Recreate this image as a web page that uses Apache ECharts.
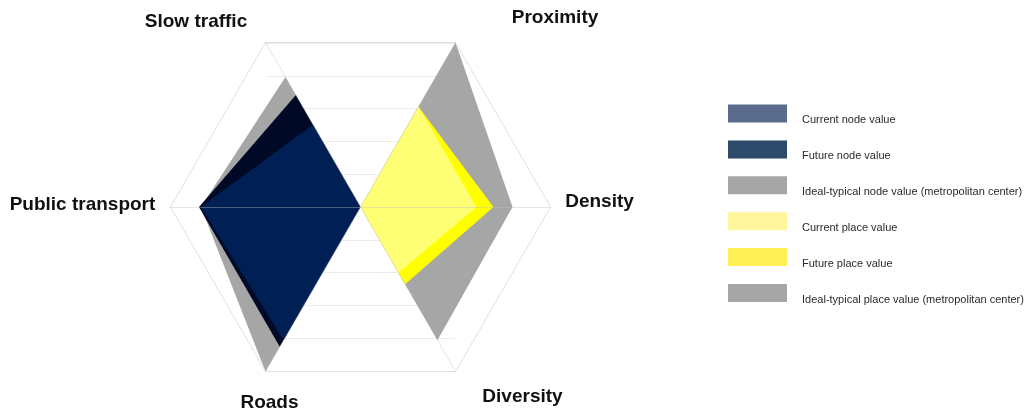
<!DOCTYPE html>
<html><head><meta charset="utf-8">
<script src="https://cdn.jsdelivr.net/npm/echarts@6/dist/echarts.min.js"></script>
<style>html,body{margin:0;padding:0;background:#fff}#c{width:1036px;height:413px}</style>
</head><body><div id="c"></div>
<script>
// Axes (counter-clockwise from the right)
const indicators = ['Density', 'Proximity', 'Slow traffic', 'Public transport', 'Roads', 'Diversity'];
const axisMax = 10;
// Values per axis, same order as indicators
const currentNode  = [0, 0, 5.0, 8.4, 8.1, 0];
const futureNode   = [0, 0, 6.8, 8.5, 8.5, 0];
const idealNode    = [0, 0, 7.9, 8.4, 10, 0];
const currentPlace = [6.1, 6.1, 0, 0, 0, 4.0];
const futurePlace  = [7.0, 6.1, 0, 0, 0, 4.7];
const idealPlace   = [8.0, 10, 0, 0, 0, 8.1];
const legendNames = [
  'Current node value',
  'Future node value',
  'Ideal-typical node value (metropolitan center)',
  'Current place value',
  'Future place value',
  'Ideal-typical place value (metropolitan center)'
];
const gridSteps = [0, 10, 1];

const legendColors = ['#5b6b8c', '#2d4a6b', '#a6a6a6', '#fff59c', '#fff057', '#a6a6a6'];
const fillColors = ['#001f54', '#000a26', '#a6a6a6', '#ffff75', '#ffff00', '#a6a6a6'];
const valuesByLegend = [currentNode, futureNode, idealNode, currentPlace, futurePlace, idealPlace];
// draw order: ideal (bottom), future, current (top)
const drawOrder = [2, 5, 1, 4, 0, 3];

const nameKeys = {'Density':'d','Proximity':'p','Slow traffic':'s','Public transport':'t','Roads':'r','Diversity':'v'};
const base = {fontSize: 19, fontWeight: 'bold', color: '#111', fontFamily: 'Liberation Sans'};
const rich = {
  d: Object.assign({padding: [0, 0, 10, 68]}, base),
  p: Object.assign({padding: [0, 0, 24, 184]}, base),
  s: Object.assign({padding: [0, 124, 16, 0]}, base),
  t: Object.assign({padding: [0, 146, 4, 0]}, base),
  r: Object.assign({padding: [36, 0, 0, 23]}, base),
  v: Object.assign({padding: [24, 0, 0, 119]}, base)
};

const chart = echarts.init(document.getElementById('c'), null, {renderer: 'canvas'});
chart.setOption({
  animation: false,
  backgroundColor: '#fff',
  grid: {left: 266, top: 43, width: 189, height: 328, z: 0},
  xAxis: {type: 'value', show: false},
  yAxis: {
    type: 'value', min: gridSteps[0], max: gridSteps[1], interval: gridSteps[2],
    axisLine: {show: false}, axisTick: {show: false}, axisLabel: {show: false},
    splitLine: {show: true, lineStyle: {color: '#ececec', width: 1}}
  },
  radar: {
    center: [360.5, 207],
    radius: 190,
    startAngle: 0,
    splitNumber: 1,
    shape: 'polygon',
    z: 3,
    nameGap: 15,
    indicator: indicators.map(n => ({name: n, min: 0, max: axisMax})),
    axisName: {
      align: 'center', verticalAlign: 'middle',
      fontSize: 19, fontWeight: 'bold', color: '#111', fontFamily: 'Liberation Sans',
      formatter: (name) => '{' + nameKeys[name] + '|' + name + '}',
      rich: rich
    },
    axisLine: {show: true, lineStyle: {color: 'rgba(190,190,190,0.4)', width: 1}},
    splitLine: {show: true, lineStyle: {color: '#e0e0e0', width: 1}},
    splitArea: {show: false}
  },
  legend: {
    orient: 'vertical',
    left: 723, top: 97.5,
    icon: 'rect',
    itemWidth: 59, itemHeight: 18, itemGap: 12.9,
    selectedMode: false,
    formatter: (name) => '{e|}\n{a|' + name + '}',
    textStyle: {
      fontSize: 11, color: '#2a2a2a', fontFamily: 'Liberation Sans',
      rich: {
        e: {height: 13, fontSize: 11, padding: [0, 0, 0, 10]},
        a: {fontSize: 11, color: '#2a2a2a', fontFamily: 'Liberation Sans', padding: [0, 0, 0, 10]}
      }
    },
    data: legendNames.map((n, i) => ({name: n, itemStyle: {color: legendColors[i], borderWidth: 0}}))
  },
  series: [{
    type: 'radar',
    z: 2,
    symbol: 'none',
    silent: true,
    data: drawOrder.map(i => ({
      name: legendNames[i],
      value: valuesByLegend[i],
      itemStyle: {color: fillColors[i]},
      lineStyle: {width: 0, color: fillColors[i]},
      areaStyle: {color: fillColors[i], opacity: 1}
    }))
  }]
});
</script>
</body></html>
